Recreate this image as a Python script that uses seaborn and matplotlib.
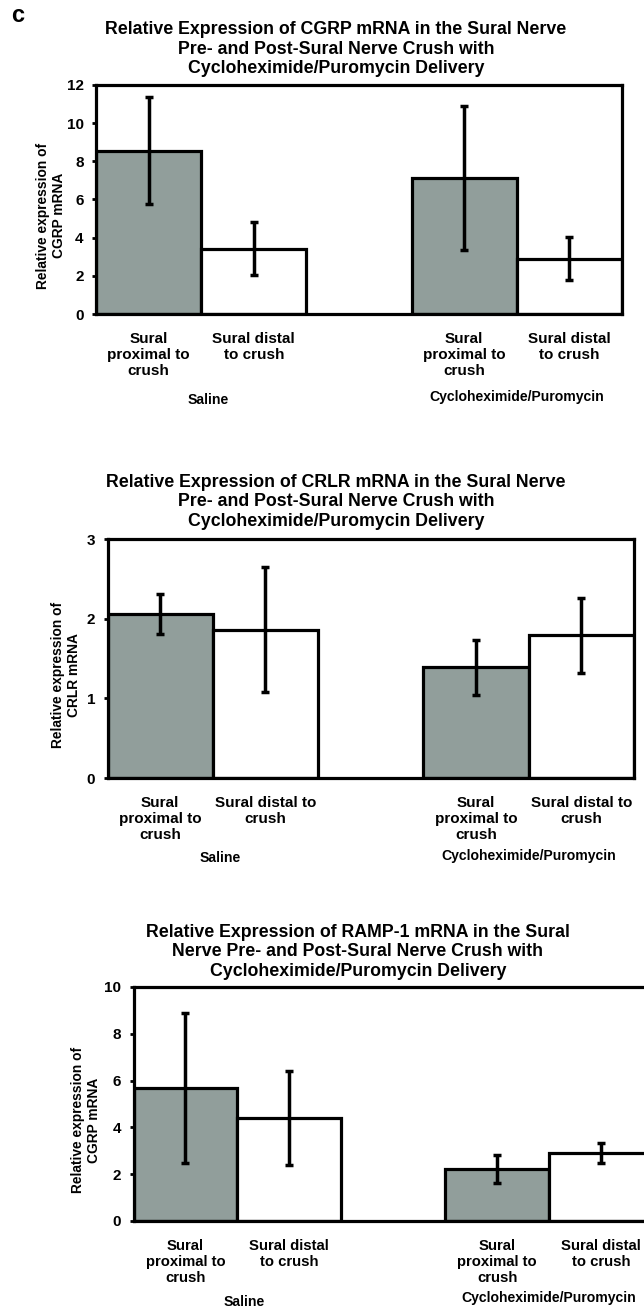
import numpy as np
import pandas as pd
import matplotlib
matplotlib.use("Agg")
import matplotlib.pyplot as plt
import seaborn as sns

# --- data ---
positions = [0, 1, 3, 4]
fills = ["gray", "white", "gray", "white"]

cgrp_means = [8.56, 3.43, 7.11, 2.90]
cgrp_errs = [2.80, 1.40, 3.77, 1.11]

crlr_means = [2.06, 1.86, 1.39, 1.79]
crlr_errs = [0.25, 0.785, 0.345, 0.475]

ramp_means = [5.70, 4.41, 2.24, 2.91]
ramp_errs = [3.20, 2.00, 0.60, 0.41]

labels_a = ["Sural\nproximal to\ncrush", "Sural distal\nto crush",
            "Sural\nproximal to\ncrush", "Sural distal\nto crush"]
labels_b = ["Sural\nproximal to\ncrush", "Sural distal to\ncrush",
            "Sural\nproximal to\ncrush", "Sural distal to\ncrush"]
groups = ["Saline", "Cycloheximide/Puromycin"]
group_x = [0.57, 3.5]

titles = [
    "Relative Expression of CGRP mRNA in the Sural Nerve\n"
    "Pre- and Post-Sural Nerve Crush with\nCycloheximide/Puromycin Delivery",
    "Relative Expression of CRLR mRNA in the Sural Nerve\n"
    "Pre- and Post-Sural Nerve Crush with\nCycloheximide/Puromycin Delivery",
    "Relative Expression of RAMP-1 mRNA in the Sural\n"
    "Nerve Pre- and Post-Sural Nerve Crush with\nCycloheximide/Puromycin Delivery",
]
ylabels = ["Relative expression of\nCGRP mRNA",
           "Relative expression of\nCRLR mRNA",
           "Relative expression of\nCGRP mRNA"]

GRAY = "#8fa09c"
W, H = 644, 1309

sns.set_style("white")
plt.rcParams["font.family"] = ["Liberation Sans", "DejaVu Sans"]
plt.rcParams["font.weight"] = "bold"
for key in ["text.color", "axes.labelcolor", "xtick.color", "ytick.color"]:
    plt.rcParams[key] = "black"

fig = plt.figure(figsize=(W / 100, H / 100), dpi=100)

# panel boxes in pixels: left, top, right, bottom
boxes = [(96, 85, 622, 314), (107.5, 539, 634, 778), (133.5, 987, 653, 1221)]
title_xy = [(336, 49), (336, 502), (358, 952)]
ylab_off = [30, 26, 32]
group_dy = [(-86, -83), (-80, -78), (-81, -77)]
tick_fs = [11, 11, 10.7]
ylims = [(12, 2), (3, 1), (10, 2)]
panels = [(cgrp_means, cgrp_errs, labels_a),
          (crlr_means, crlr_errs, labels_b),
          (ramp_means, ramp_errs, labels_a)]

for i, (means, errs, xlabels) in enumerate(panels):
    l, t, r, b = boxes[i]
    ax = fig.add_axes([l / W, 1 - b / H, (r - l) / W, (b - t) / H])

    df = pd.DataFrame({"pos": positions, "value": means, "fill": fills})
    sns.barplot(data=df, x="pos", y="value", hue="fill",
                palette={"gray": GRAY, "white": "white"},
                native_scale=True, width=1, dodge=False, errorbar=None,
                edgecolor="black", linewidth=2.3, legend=False, ax=ax)
    ax.errorbar(positions, means, yerr=errs, fmt="none", ecolor="black",
                elinewidth=2.5, capsize=3, capthick=2.5, zorder=5)

    top, step = ylims[i]
    ticks = np.arange(0, top + 0.01, step)
    ax.set_xlim(-0.5, 4.5)
    ax.set_ylim(0, top)
    ax.set_yticks(ticks)
    ax.set_yticklabels([str(int(v)) for v in ticks],
                       fontsize=11, fontweight="bold")
    ax.set_xticks(positions)
    ax.set_xticklabels(xlabels, fontsize=tick_fs[i], fontweight="bold",
                       linespacing=1.2)
    ax.tick_params(axis="x", length=0, pad=13)
    ax.tick_params(axis="y", left=True, length=3, width=2, pad=6)
    ax.set_xlabel("")
    ax.set_ylabel(ylabels[i], fontsize=9.9, fontweight="bold", linespacing=1.2)
    ax.yaxis.set_label_coords(-ylab_off[i] / (r - l), 0.43)
    for sp in ax.spines.values():
        sp.set_visible(True)
        sp.set_linewidth(2.3)
        sp.set_color("black")

    for gx, g, dy in zip(group_x, groups, group_dy[i]):
        ax.annotate(g, xy=(gx, 0), xycoords=("data", "axes fraction"),
                    xytext=(0, dy), textcoords="offset pixels",
                    ha="center", va="center", fontsize=10.1, fontweight="bold")

    tx, ty = title_xy[i]
    fig.text(tx / W, 1 - ty / H, titles[i], ha="center", va="center",
             fontsize=12.75, fontweight="bold", linespacing=1.2)

fig.text(18 / W, 1 - 16 / H, "c", ha="center", va="center",
         fontsize=17, fontweight="bold")

fig.savefig("out.png", dpi=100)
